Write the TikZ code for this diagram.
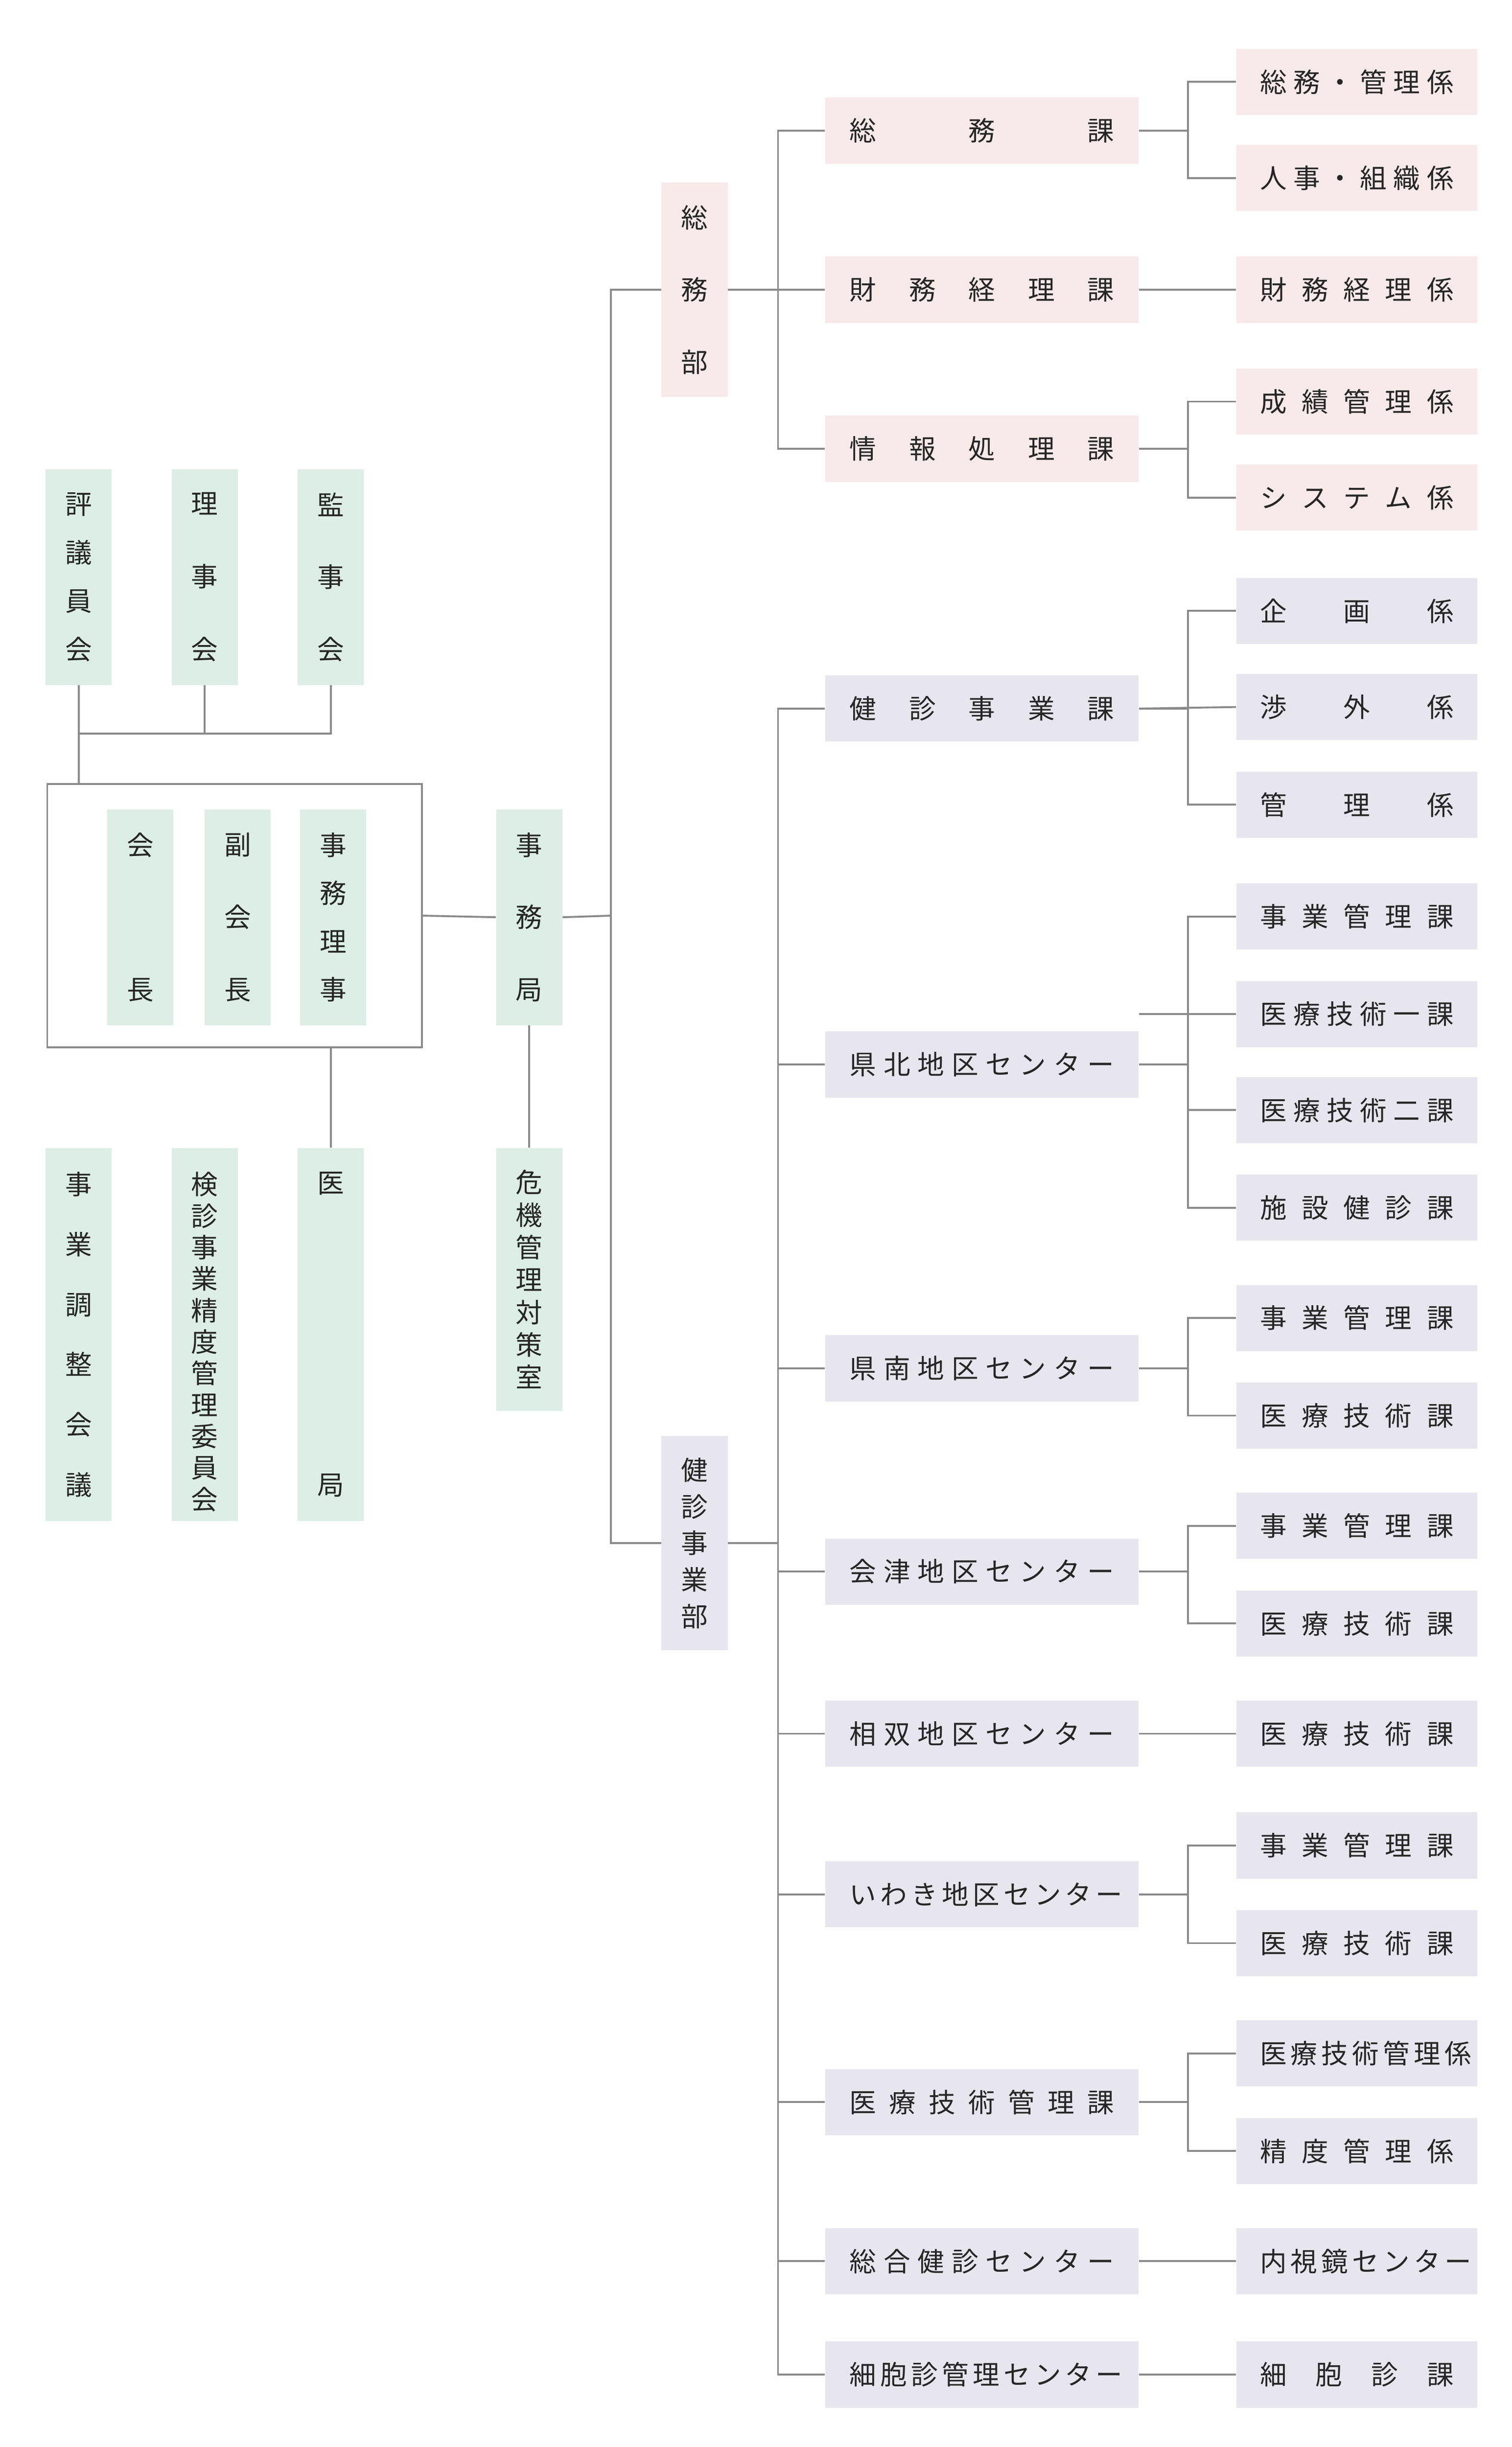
\documentclass[tikz,border=0pt]{standalone}
\usepackage{fontspec}
\setmainfont{Noto Sans CJK JP}
\definecolor{pk}{HTML}{F8E9EA}
\definecolor{lv}{HTML}{E7E6EF}
\definecolor{gr}{HTML}{DCEEE5}
\definecolor{ln}{HTML}{8A8A8A}
\newcommand\vc[1]{\hbox to 18pt{\hss#1\hss}}
\newcommand\mt[1]{\makebox[168pt][s]{#1}}
\newcommand\rt[1]{\makebox[123pt][s]{#1}}
\begin{document}
\begin{tikzpicture}[x=1pt,y=-1pt,
  every node/.style={inner sep=0pt,font=\fontsize{17}{20}\selectfont,text=black!85},
  mid/.style={fill=#1,minimum width=199pt,minimum height=42pt},
  rb/.style={fill=#1,minimum width=153pt,minimum height=42pt},
  vb/.style={fill=gr,minimum width=42pt},
  ln/.style={draw=ln,line width=1.2pt}]
\useasboundingbox (0,0) rectangle (960,1554);
% left green
\node[vb,minimum height=137pt] (hyo) at (50,366.5) {\vbox to 106pt{\vc{評}\vfill\vc{議}\vfill\vc{員}\vfill\vc{会}}};
\node[vb,minimum height=137pt] (rij) at (130,366.5) {\vbox to 106pt{\vc{理}\vfill\vc{事}\vfill\vc{会}}};
\node[vb,minimum height=137pt] (kan) at (210,366.5) {\vbox to 106pt{\vc{監}\vfill\vc{事}\vfill\vc{会}}};
\node[draw=ln,line width=1.2pt,minimum width=238pt,minimum height=167pt] (big) at (149,581.5) {};
\node[vb,minimum height=137pt] (kai) at (89,582.5) {\vbox to 106pt{\vc{会}\vfill\vc{長}}};
\node[vb,minimum height=137pt] (fuk) at (151,582.5) {\vbox to 106pt{\vc{副}\vfill\vc{会}\vfill\vc{長}}};
\node[vb,minimum height=137pt] (jir) at (211.5,582.5) {\vbox to 106pt{\vc{事}\vfill\vc{務}\vfill\vc{理}\vfill\vc{事}}};
\node[vb,minimum height=137pt] (jim) at (336,582.5) {\vbox to 106pt{\vc{事}\vfill\vc{務}\vfill\vc{局}}};
\node[vb,minimum height=167pt] (kik) at (336,812.5) {\vbox to 138pt{\vc{危}\vfill\vc{機}\vfill\vc{管}\vfill\vc{理}\vfill\vc{対}\vfill\vc{策}\vfill\vc{室}}};
\node[vb,minimum height=237pt] (jgy) at (50,847.5) {\vbox to 205pt{\vc{事}\vfill\vc{業}\vfill\vc{調}\vfill\vc{整}\vfill\vc{会}\vfill\vc{議}}};
\node[vb,minimum height=237pt] (ken) at (130,847.5) {\vbox to 205pt{\vc{検}\vfill\vc{診}\vfill\vc{事}\vfill\vc{業}\vfill\vc{精}\vfill\vc{度}\vfill\vc{管}\vfill\vc{理}\vfill\vc{委}\vfill\vc{員}\vfill\vc{会}}};
\node[vb,minimum height=237pt] (iky) at (210,847.5) {\vbox to 205pt{\vc{医}\vfill\vc{局}}};
\coordinate (jt) at (50,466);
\draw[ln] (hyo.south) -- (jt) -- (big.north west-|jt);
\draw[ln] (rij.south) -- (rij.south|-jt);
\draw[ln] (kan.south) -- (kan.south|-jt) -- (jt);
\draw[ln] (big.south-|iky) -- (iky.north);
\draw[ln] (big.east) -- (jim.west);
\draw[ln] (jim.south) -- (kik.north);
% departments
\node[vb,fill=pk,minimum height=136pt] (som) at (441,184) {\vbox to 106pt{\vc{総}\vfill\vc{務}\vfill\vc{部}}};
\node[vb,fill=lv,minimum height=136pt] (kjb) at (441,980) {\vbox to 107pt{\vc{健}\vfill\vc{診}\vfill\vc{事}\vfill\vc{業}\vfill\vc{部}}};
\coordinate (a1) at (388,581.5);
\draw[ln] (jim.east) -- (a1);
\draw[ln] (som.west) -| (a1) |- (kjb.west);
% mid boxes
\foreach \n/\y/\c/\t in {m1/83/pk/総 務 課, m2/184/pk/財 務 経 理 課, m3/285/pk/情 報 処 理 課,
  m4/450/lv/健 診 事 業 課, m5/676/lv/県 北 地 区 セ ン タ ー, m6/869/lv/県 南 地 区 セ ン タ ー,
  m7/998/lv/会 津 地 区 セ ン タ ー, m8/1101/lv/相 双 地 区 セ ン タ ー, m9/1203/lv/い わ き 地 区 セ ン タ ー,
  m10/1335/lv/医 療 技 術 管 理 課, m11/1436/lv/総 合 健 診 セ ン タ ー, m12/1508/lv/細 胞 診 管 理 セ ン タ ー}
  \node[mid=\c] (\n) at (623.5,\y) {\mt{\t}};
\coordinate (b1) at (494,184);
\coordinate (b2) at (494,980);
\draw[ln] (som.east) -- (b1);
\draw[ln] (kjb.east) -- (b2);
\draw[ln] (m1.west) -| (b1) |- (m3.west);
\draw[ln] (m2.west) -- (b1);
\draw[ln] (m4.west) -| (b2) |- (m12.west);
\foreach \m in {m5,m6,m7,m8,m9,m10,m11} \draw[ln] (\m.west) -- (\m.west-|b2);
% right boxes
\foreach \n/\y/\c/\t in {r1/52/pk/総 務 ・ 管 理 係, r2/113/pk/人 事 ・ 組 織 係, r3/184/pk/財 務 経 理 係,
  r4/255/pk/成 績 管 理 係, r5/316/pk/シ ス テ ム 係,
  r6/388/lv/企 画 係, r7/449/lv/渉 外 係, r8/511/lv/管 理 係,
  r9/582/lv/事 業 管 理 課, r10/644/lv/医 療 技 術 一 課, r11/705/lv/医 療 技 術 二 課, r12/767/lv/施 設 健 診 課,
  r13/837/lv/事 業 管 理 課, r14/899/lv/医 療 技 術 課, r15/969/lv/事 業 管 理 課, r16/1031/lv/医 療 技 術 課,
  r17/1101/lv/医 療 技 術 課, r18/1172/lv/事 業 管 理 課, r19/1234/lv/医 療 技 術 課,
  r20/1304/lv/医 療 技 術 管 理 係, r21/1366/lv/精 度 管 理 係, r22/1436/lv/内 視 鏡 セ ン タ ー, r23/1508/lv/細 胞 診 課}
  \node[rb=\c] (\n) at (861.5,\y) {\rt{\t}};
\foreach \m/\a/\b in {m1/r1/r2, m3/r4/r5, m4/r6/r8, m5/r9/r12, m6/r13/r14, m7/r15/r16, m9/r18/r19, m10/r20/r21}{
  \coordinate (j) at ([xshift=31pt]\m.east);
  \draw[ln] (\m.east) -- (j);
  \draw[ln] (\a.west) -| (j) |- (\b.west);
}
\draw[ln] (r7.west) -- (m4.east);
\draw[ln] (r10.west) -- (r10.west-|m5.east) ++(31,0);
\draw[ln] (r10.west) -- ++(-31,0);
\draw[ln] (r11.west) -- ++(-31,0);
\draw[ln] (m2.east) -- (r3.west);
\draw[ln] (m8.east) -- (r17.west);
\draw[ln] (m11.east) -- (r22.west);
\draw[ln] (m12.east) -- (r23.west);
\end{tikzpicture}
\end{document}
